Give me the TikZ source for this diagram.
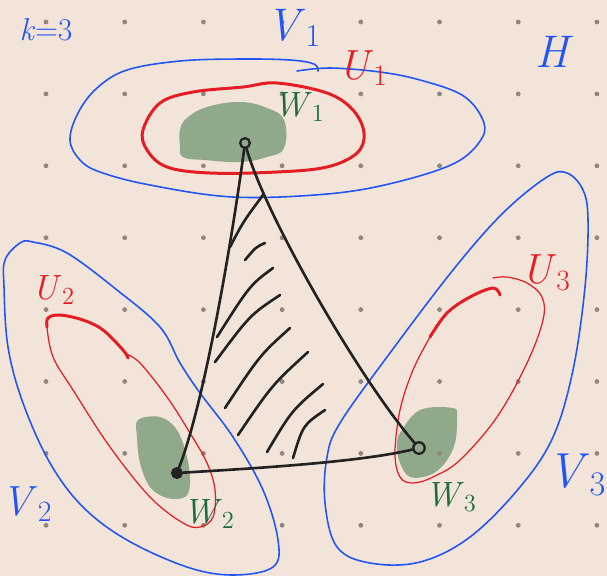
\documentclass[tikz,border=0pt]{standalone}
\usepackage{fontspec}
\usepackage{xcolor}
\usepackage{tikz}
\usetikzlibrary{positioning}

\definecolor{paper}{HTML}{F3E4D9}
\definecolor{inkblue}{HTML}{2255F5}
\definecolor{inkred}{HTML}{E61C24}
\definecolor{inkgreen}{HTML}{1B6E3A}
\definecolor{blobgreen}{HTML}{8FA98A}
\definecolor{inkblack}{HTML}{222222}
\definecolor{dotgray}{HTML}{8E8681}

\newcommand{\setlbl}[2]{\textit{#1}\textsubscript{#2}}

\begin{document}
\begin{tikzpicture}[x=0.02cm, y=-0.02cm,
  vset/.style={draw=inkblue, line width=0.9pt, line cap=round},
  uset/.style={draw=inkred, line width=1.7pt, line cap=round},
  uthin/.style={draw=inkred, line width=0.7pt, line cap=round},
  blob/.style={fill=blobgreen, draw=none},
  vtx/.style={circle, draw=inkblack, line width=1.3pt, inner sep=0pt, minimum size=5.5pt},
  edge/.style={draw=inkblack, line width=1.5pt, line cap=round},
  lbl/.style={inner sep=0pt, font=\fontsize{26}{26}\selectfont}
]
  \fill[paper] (0,0) rectangle (607,576);
  \useasboundingbox (0,0) rectangle (607,576);

  % the three W's
  \fill[blob] plot[smooth cycle, tension=0.7] coordinates {(180,130) (187,118) (207,107) (240,102) (267,108) (284,120) (284,148) (267,157) (240,162) (205,160) (183,157) (180,145)};
  \fill[blob] plot[smooth cycle, tension=0.6] coordinates {(138,420) (160,417) (177,430) (187,457) (190,483) (185,497) (167,498) (150,487) (140,463) (137,437)};
  \fill[blob] plot[smooth cycle, tension=0.6] coordinates {(400,433) (420,410) (453,408) (457,417) (455,443) (445,463) (430,475) (410,477) (400,463) (397,447)};

  \foreach \i in {0,...,7}
    \foreach \j in {0,...,7}
      \fill[dotgray] ({46+78.7*\i},{22+71.9*\j}) circle[radius=2.4];

  % the V's
  \draw[vset] plot[smooth, tension=0.6] coordinates {(318,71) (314,64) (290,60) (240,59) (180,61) (127,70) (97,88) (78,113) (70,140) (80,160) (100,172) (150,185) (233,197) (327,194) (393,183) (455,163) (482,138) (482,118) (462,95) (420,80) (380,72) (330,68) (297,71)};
  \draw[vset] plot[smooth cycle, tension=0.6] coordinates {(20,243) (33,242) (67,253) (117,290) (160,327) (180,363) (200,393) (233,437) (263,490) (278,540) (273,567) (233,575) (187,567) (127,540) (83,507) (50,463) (23,403) (8,347) (4,287) (5,260)};
  \draw[vset] plot[smooth cycle, tension=0.6] coordinates {(567,173) (583,190) (588,220) (585,287) (573,370) (553,437) (520,487) (470,537) (420,562) (370,563) (337,547) (325,503) (327,457) (340,423) (387,357) (453,270) (503,213) (547,177)};

  % the U's
  \draw[uset] plot[smooth cycle, tension=0.6] coordinates {(143,130) (160,103) (193,92) (243,87) (277,83) (327,93) (353,110) (364,133) (357,153) (327,167) (277,172) (210,173) (167,167) (147,150)};
  \draw[uset] plot[smooth, tension=0.6] coordinates {(128,358) (123,350) (103,330) (83,320) (60,315) (48,318) (47,327)};
  \draw[uthin] plot[smooth, tension=0.6] coordinates {(47,327) (53,357) (73,390) (110,447) (150,497) (183,523) (200,527) (213,517) (215,490) (207,463) (190,433) (167,397) (140,363) (126,354)};
  \draw[uset] plot[smooth, tension=0.6] coordinates {(500,295) (493,288) (470,297) (447,313) (430,337)};
  \draw[uthin] plot[smooth, tension=0.6] coordinates {(430,337) (413,370) (400,410) (395,453) (400,477) (413,483) (433,477) (460,460) (497,417) (527,363) (543,320) (542,297) (527,283) (507,277) (493,278)};

  \node[vtx] (v1) at (245,143) {};
  \node[vtx, fill=inkblack] (v2) at (177,473) {};
  \node[vtx, minimum size=6.5pt] (v3) at (419,448) {};

  \draw[edge] (v1) .. controls (232,240) and (205,400) .. (v2);
  \draw[edge] (v1) .. controls (265,215) and (360,380) .. (v3);
  \draw[edge] (v2) .. controls (260,468) and (360,462) .. (v3);

  % hatching
  \draw[edge] (230,247) .. controls (243,222) .. (263,195);
  \draw[edge] (245,260) .. controls (256,247) .. (265,243);
  \draw[edge] (217,337) .. controls (250,285) .. (273,268);
  \draw[edge] (215,362) .. controls (250,315) .. (280,295);
  \draw[edge] (225,408) .. controls (260,355) .. (290,328);
  \draw[edge] (238,435) .. controls (272,385) .. (308,352);
  \draw[edge] (267,452) .. controls (292,410) .. (323,384);
  \draw[edge] (293,458) .. controls (303,425) .. (325,410);

  % labels
  \node[lbl, text=inkblue, font=\fontsize{18}{18}\selectfont] (k) at (46,30) {\textit{k}=3};
  \node[lbl, text=inkblue] (V1) at (294,28) {\setlbl{V}{1}};
  \node[lbl, text=inkblue] (H) at (554,52) {\textit{H}};
  \node[lbl, text=inkred, font=\fontsize{24}{24}\selectfont] (U1) at (363,68) {\setlbl{U}{1}};
  \node[lbl, text=inkgreen, font=\fontsize{20}{20}\selectfont] (W1) at (299,107) {\setlbl{W}{1}};
  \node[lbl, text=inkred, font=\fontsize{20}{20}\selectfont] (U2) at (54,290) {\setlbl{U}{2}};
  \node[lbl, text=inkblue, font=\fontsize{24}{24}\selectfont] (V2) at (27,504) {\setlbl{V}{2}};
  \node[lbl, text=inkgreen, font=\fontsize{20}{20}\selectfont] (W2) at (209,514) {\setlbl{W}{2}};
  \node[lbl, text=inkred, font=\fontsize{24}{24}\selectfont] (U3) at (546,273) {\setlbl{U}{3}};
  \node[lbl, text=inkblue, font=\fontsize{28}{28}\selectfont] (V3) at (577,475) {\setlbl{V}{3}};
  \node[lbl, text=inkgreen, font=\fontsize{20}{20}\selectfont] (W3) at (451,497) {\setlbl{W}{3}};
\end{tikzpicture}
\end{document}
